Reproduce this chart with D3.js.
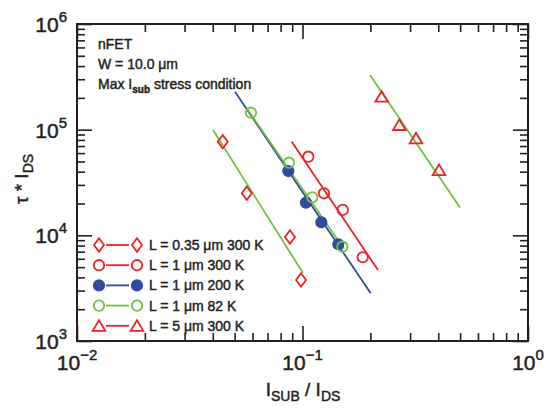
<!DOCTYPE html>
<html>
<head>
<meta charset="utf-8">
<script src="https://cdn.jsdelivr.net/npm/d3@7"></script>
<style>
  body { margin: 0; background: #fff; }
  text { font-family: "Liberation Sans", Arial, sans-serif; fill: #231f20; stroke: #231f20; stroke-width: 0.45px; }
</style>
</head>
<body>
<div id="viz"></div>
<script>
// values
var xTicks = [0.01, 0.1, 1];
var yTicks = [1e3, 1e4, 1e5, 1e6];
var xExp = ["\u22122", "\u22121", "0"];
var yExp = ["3", "4", "5", "6"];

var names = ["L = 0.35 \u03bcm 300 K", "L = 1 \u03bcm 300 K", "L = 1 \u03bcm 200 K", "L = 1 \u03bcm 82 K", "L = 5 \u03bcm 300 K"];

var x035 = [0.0443, 0.0566, 0.0880, 0.0985];
var y035 = [76900, 25000, 9650, 3780];
var x1_300 = [0.1061, 0.1245, 0.1508, 0.1849];
var y1_300 = [55500, 25000, 17400, 6200];
var x1_200 = [0.0865, 0.1036, 0.1212, 0.1441];
var y1_200 = [40600, 20400, 13300, 8230];
var x1_82 = [0.0591, 0.0871, 0.1105, 0.1502];
var y1_82 = [144700, 48700, 22900, 7810];
var x5_300 = [0.2244, 0.2687, 0.3186, 0.4030];
var y5_300 = [205000, 110700, 82800, 41500];

// fitted lines, two end points each
var fitX = [[0.0401, 0.1005], [0.0896, 0.2161], [0.0502, 0.2006], [0.0566, 0.1528], [0.1992, 0.4993]];
var fitY = [[99300, 4400], [76900, 4700], [228800, 2830], [159300, 7430], [329300, 18300]];

var red = "#ec2227", green = "#74c044", blue = "#2f4c9e";
var fitColor = [green, red, blue, green, green];
var legendLine = [red, red, blue, green, red];
var markColor = [red, red, blue, green, red];
var shapes = ["diamond", "circle", "dot", "circle", "triangle"];

var width = 550, height = 409;
var margin = {top: 24, left: 77, right: 22, bottom: 68};
var w = width - margin.left - margin.right;
var h = height - margin.top - margin.bottom;

var svg = d3.select("#viz").append("svg")
  .attr("width", width)
  .attr("height", height);

var g = svg.append("g")
  .attr("transform", "translate(" + margin.left + "," + margin.top + ")");

var x_scale = d3.scaleLog().domain([0.01, 1]).range([0, w]);
var y_scale = d3.scaleLog().domain([1e3, 1e6]).range([h, 0]);

function isMajor(v) {
  var l = Math.log10(v);
  return Math.abs(l - Math.round(l)) < 1e-6;
}

function fixTicks(sel, attr, sign) {
  sel.select(".domain").remove();
  sel.selectAll(".tick line")
    .attr("stroke", "#231f20")
    .attr("stroke-width", 1.6)
    .attr(attr, function(d){ return sign * (isMajor(d) ? 15 : 8); });
}

// inward ticks on all four sides
g.append("g").attr("transform", "translate(0," + h + ")")
  .call(d3.axisBottom(x_scale).tickFormat("").tickSizeOuter(0))
  .call(fixTicks, "y2", -1);
g.append("g")
  .call(d3.axisTop(x_scale).tickFormat("").tickSizeOuter(0))
  .call(fixTicks, "y2", 1);
g.append("g")
  .call(d3.axisLeft(y_scale).tickFormat("").tickSizeOuter(0))
  .call(fixTicks, "x2", 1);
g.append("g").attr("transform", "translate(" + w + ",0)")
  .call(d3.axisRight(y_scale).tickFormat("").tickSizeOuter(0))
  .call(fixTicks, "x2", -1);

g.append("rect")
  .attr("width", w).attr("height", h)
  .attr("fill", "none")
  .attr("stroke", "#231f20")
  .attr("stroke-width", 2);

// tick labels
xTicks.forEach(function(v, i){
  var t = g.append("text")
    .attr("x", x_scale(v))
    .attr("y", h + 29)
    .attr("text-anchor", "middle")
    .style("font-size", "21px");
  t.append("tspan").text("10");
  t.append("tspan").attr("dy", -10).style("font-size", "15px").text(xExp[i]);
});

yTicks.forEach(function(v, i){
  var t = g.append("text")
    .attr("x", -10)
    .attr("y", y_scale(v) + 8)
    .attr("text-anchor", "end")
    .style("font-size", "21px");
  t.append("tspan").text("10");
  t.append("tspan").attr("dy", -10).style("font-size", "15px").text(yExp[i]);
});

// axis titles
var xt = svg.append("text")
  .attr("x", 303).attr("y", 396)
  .attr("text-anchor", "middle")
  .style("font-size", "19px");
xt.append("tspan").text("I");
xt.append("tspan").attr("dy", 5).style("font-size", "14px").text("SUB");
xt.append("tspan").attr("dy", -5).text(" / I");
xt.append("tspan").attr("dy", 5).style("font-size", "14px").text("DS");

var yt = svg.append("text")
  .attr("transform", "translate(28,179)rotate(-90)")
  .attr("text-anchor", "middle")
  .style("font-size", "19px");
yt.append("tspan").text("\u03c4 * I");
yt.append("tspan").attr("dy", 5).style("font-size", "14px").text("DS");

// annotation
svg.append("text").attr("x", 98).attr("y", 49).style("font-size", "14px").text("nFET");
svg.append("text").attr("x", 98).attr("y", 69).style("font-size", "14px").text("W = 10.0 \u03bcm");
var an = svg.append("text").attr("x", 98).attr("y", 89).style("font-size", "14px");
an.append("tspan").text("Max I");
an.append("tspan").attr("dy", 4).style("font-size", "10px").style("font-weight", "bold").text("sub");
an.append("tspan").attr("dy", -4).text(" stress condition");

// marker drawing
function marker(sel, shape, color, cx, cy) {
  if (shape == "circle" || shape == "dot") {
    sel.append("circle")
      .attr("cx", cx).attr("cy", cy).attr("r", 5.2)
      .attr("fill", shape == "dot" ? color : "none")
      .attr("stroke", color).attr("stroke-width", 1.8);
  } else if (shape == "diamond") {
    sel.append("path")
      .attr("d", "M" + cx + "," + (cy - 6.8) + "L" + (cx + 5) + "," + cy + "L" + cx + "," + (cy + 6.8) + "L" + (cx - 5) + "," + cy + "Z")
      .attr("fill", "none").attr("stroke", color).attr("stroke-width", 1.8);
  } else {
    sel.append("path")
      .attr("d", "M" + cx + "," + (cy - 5.5) + "L" + (cx + 6.3) + "," + (cy + 5) + "L" + (cx - 6.3) + "," + (cy + 5) + "Z")
      .attr("fill", "none").attr("stroke", color).attr("stroke-width", 1.8);
  }
}

var line = d3.line()
  .x(function(d){ return x_scale(d[0]); })
  .y(function(d){ return y_scale(d[1]); });

fitX.forEach(function(xs, i){
  g.append("path")
    .datum(d3.zip(xs, fitY[i]))
    .attr("d", line)
    .attr("fill", "none")
    .attr("stroke", fitColor[i])
    .attr("stroke-width", 1.8);
});

var allX = [x035, x1_300, x1_200, x1_82, x5_300];
var allY = [y035, y1_300, y1_200, y1_82, y5_300];
var marks = g.append("g");
allX.forEach(function(xs, i){
  xs.forEach(function(v, j){
    marker(marks, shapes[i], markColor[i], x_scale(v), y_scale(allY[i][j]));
  });
});

// legend
var leg = svg.append("g");
names.forEach(function(n, i){
  var yy = 245 + i * 20.2;
  leg.append("line")
    .attr("x1", 106).attr("x2", 129)
    .attr("y1", yy).attr("y2", yy)
    .attr("stroke", legendLine[i]).attr("stroke-width", 1.8);
  marker(leg, shapes[i], markColor[i], 99, yy);
  marker(leg, shapes[i], markColor[i], 137, yy);
  leg.append("text")
    .attr("x", 149).attr("y", yy + 5)
    .style("font-size", "14px")
    .text(n);
});
</script>
</body>
</html>
